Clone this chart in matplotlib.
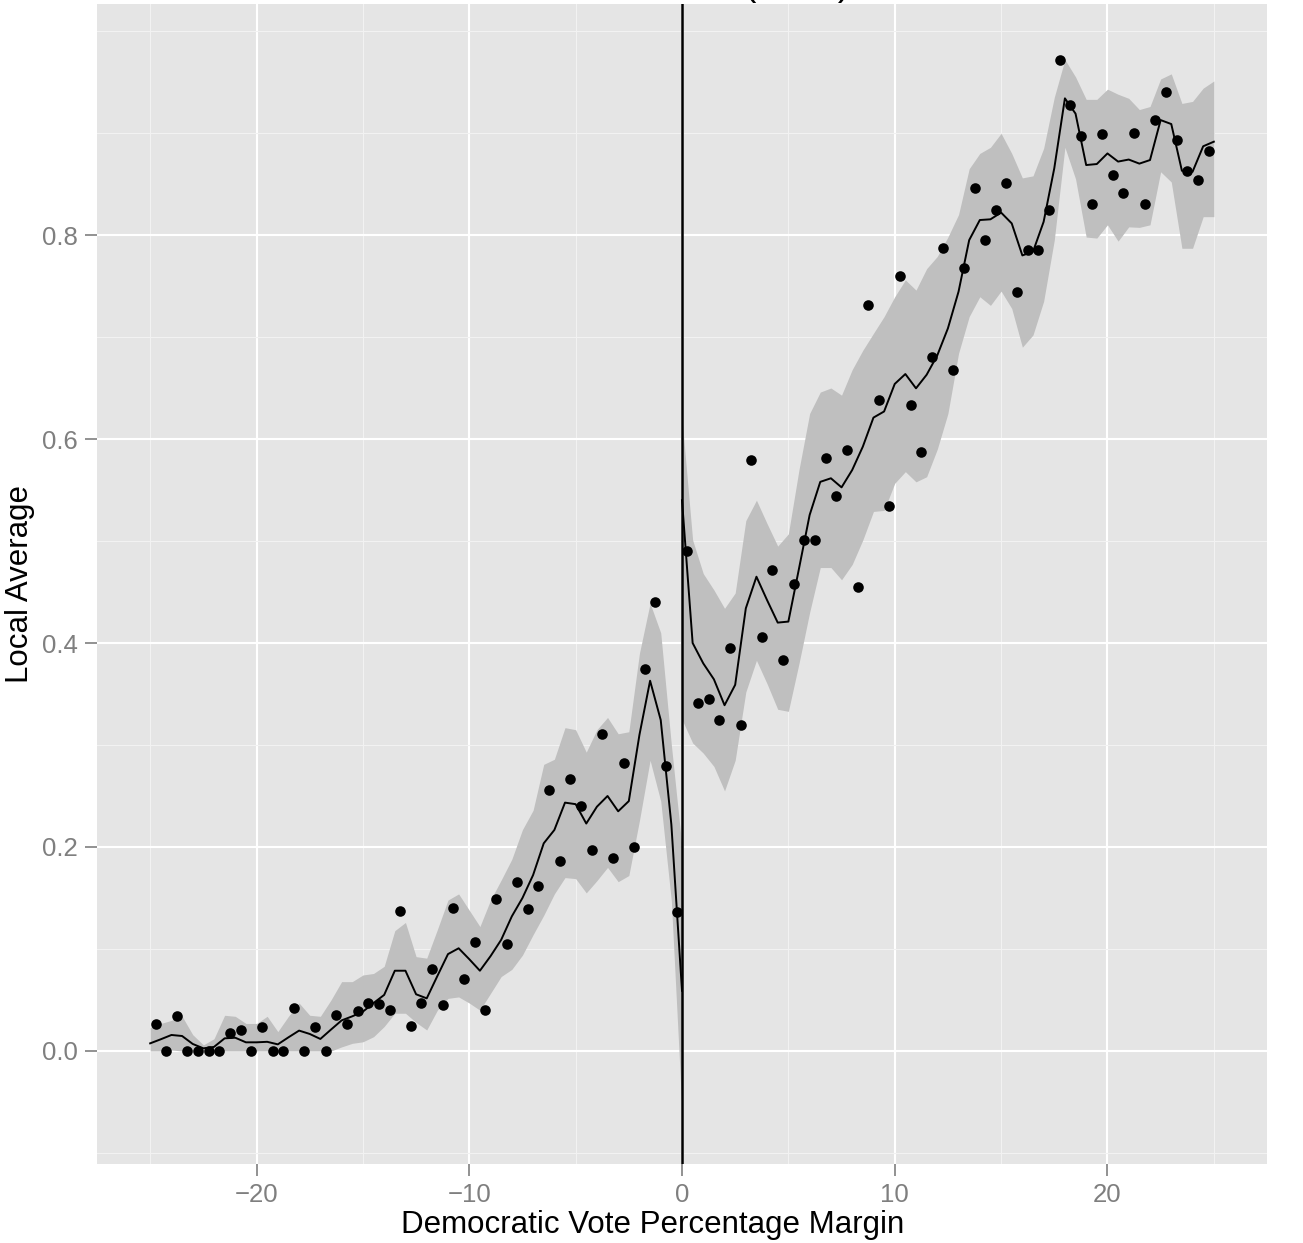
import numpy as np
import matplotlib
matplotlib.use('Agg')
import matplotlib.pyplot as plt
from matplotlib.ticker import FixedLocator

plt.rcParams['font.family'] = ['Liberation Sans', 'DejaVu Sans']

# ---------------- data ----------------
# bin centres (0.5-wide bins)
bins_left = np.arange(-24.75, 0, 0.5)
bins_right = np.arange(0.25, 25, 0.5)

pts_left = [0.026, 0.0, 0.034, 0.0, 0.0, 0.0, 0.0, 0.018, 0.021, 0.0,
            0.024, 0.0, 0.0, 0.042, 0.0, 0.024, 0.0, 0.035, 0.026, 0.039,
            0.047, 0.046, 0.040, 0.137, 0.0245, 0.047, 0.080, 0.045, 0.140, 0.071,
            0.107, 0.0405, 0.149, 0.105, 0.166, 0.139, 0.162, 0.256, 0.186, 0.267,
            0.240, 0.197, 0.311, 0.189, 0.282, 0.200, 0.375, 0.440, 0.279, 0.136]

pts_right = [0.490, 0.341, 0.345, 0.325, 0.395, 0.320, 0.579, 0.4055, 0.472, 0.383,
             0.4575, 0.5005, 0.5005, 0.581, 0.544, 0.589, 0.455, 0.731, 0.638, 0.534,
             0.760, 0.633, 0.587, 0.680, 0.787, 0.668, 0.768, 0.846, 0.795, 0.825,
             0.851, 0.744, 0.785, 0.785, 0.825, 0.972, 0.927, 0.897, 0.830, 0.899,
             0.8585, 0.841, 0.8997, 0.830, 0.913, 0.940, 0.893, 0.863, 0.854, 0.882]

# local-average curve evaluated on a 0.5 grid on each side of the cutoff
grid_left = np.arange(-25, 0.01, 0.5)
grid_right = np.arange(0, 25.01, 0.5)

fit_left = [0.0075, 0.0115, 0.0157, 0.0147, 0.0069, 0.0026, 0.004, 0.0124, 0.013, 0.0085,
            0.0085, 0.009, 0.0065, 0.0134, 0.020, 0.0167, 0.0118, 0.021, 0.030, 0.034,
            0.0386, 0.047, 0.055, 0.0787, 0.0787, 0.0556, 0.0516, 0.0735, 0.095, 0.1007,
            0.090, 0.0787, 0.093, 0.109, 0.132, 0.150, 0.1725, 0.2036, 0.2167, 0.2435,
            0.242, 0.223, 0.2395, 0.250, 0.235, 0.245, 0.310, 0.363, 0.3245, 0.222,
            0.059]
hi_left = [0.023, 0.027, 0.030, 0.034, 0.016, 0.006, 0.012, 0.035, 0.034, 0.027,
           0.027, 0.034, 0.019, 0.034, 0.047, 0.035, 0.034, 0.050, 0.068, 0.068,
           0.0745, 0.076, 0.083, 0.118, 0.126, 0.0925, 0.091, 0.119, 0.148, 0.154,
           0.138, 0.122, 0.148, 0.1676, 0.188, 0.217, 0.236, 0.281, 0.286, 0.317,
           0.315, 0.293, 0.315, 0.327, 0.311, 0.313, 0.390, 0.439, 0.410, 0.300,
           0.200]
lo_left = [0.0, 0.0, 0.001, 0.0, 0.0, 0.0, 0.0, 0.0, 0.0, 0.0,
           0.0, 0.0, 0.0, 0.0, 0.0, 0.0, 0.0, 0.0, 0.004, 0.0075,
           0.009, 0.014, 0.024, 0.037, 0.037, 0.028, 0.0206, 0.040, 0.0516, 0.053,
           0.047, 0.040, 0.0565, 0.073, 0.080, 0.094, 0.114, 0.133, 0.154, 0.170,
           0.169, 0.155, 0.167, 0.180, 0.166, 0.172, 0.226, 0.285, 0.245, 0.147,
           -0.059]

fit_right = [0.540, 0.400, 0.380, 0.3644, 0.339, 0.359, 0.434, 0.465, 0.442, 0.420,
             0.421, 0.473, 0.5255, 0.558, 0.5615, 0.5526, 0.5696, 0.5925, 0.621, 0.627,
             0.654, 0.6637, 0.6497, 0.663, 0.682, 0.7085, 0.7445, 0.795, 0.8147, 0.8154,
             0.822, 0.8114, 0.780, 0.7837, 0.813, 0.8654, 0.934, 0.919, 0.8686, 0.8696,
             0.880, 0.872, 0.874, 0.870, 0.8735, 0.9127, 0.9088, 0.863, 0.862, 0.887,
             0.8915]
hi_right = [0.620, 0.501, 0.468, 0.452, 0.434, 0.449, 0.520, 0.540, 0.517, 0.495,
            0.507, 0.570, 0.625, 0.646, 0.650, 0.643, 0.668, 0.687, 0.7036, 0.720,
            0.7395, 0.756, 0.746, 0.767, 0.779, 0.798, 0.820, 0.865, 0.880, 0.886,
            0.8997, 0.880, 0.856, 0.858, 0.885, 0.935, 0.972, 0.955, 0.933, 0.933,
            0.943, 0.938, 0.934, 0.923, 0.926, 0.953, 0.958, 0.929, 0.931, 0.944,
            0.951]
lo_right = [0.325, 0.302, 0.292, 0.279, 0.255, 0.285, 0.352, 0.383, 0.360, 0.335,
            0.333, 0.380, 0.430, 0.474, 0.474, 0.462, 0.477, 0.501, 0.529, 0.530,
            0.5566, 0.568, 0.558, 0.563, 0.590, 0.625, 0.684, 0.720, 0.7395, 0.731,
            0.745, 0.728, 0.690, 0.702, 0.735, 0.795, 0.886, 0.855, 0.798, 0.797,
            0.810, 0.794, 0.808, 0.8075, 0.810, 0.862, 0.852, 0.787, 0.787, 0.818,
            0.818]

x_major = [-20, -10, 0, 10, 20]
x_minor = [-25, -15, -5, 5, 15, 25]
y_major = [0.0, 0.2, 0.4, 0.6, 0.8]
y_minor = [-0.1, 0.1, 0.3, 0.5, 0.7, 0.9, 1.0]
cutoff = 0

# ---------------- figure ----------------
W, H = 1303, 1243
fig = plt.figure(figsize=(W / 100, H / 100), dpi=100)
L, R, T, B = 97, 1267, 4, 1164
ax = fig.add_axes([L / W, 1 - B / H, (R - L) / W, (B - T) / H])
ax.set_facecolor('#E5E5E5')
for s in ax.spines.values():
    s.set_visible(False)

ribbon = '#BFBFBF'
ax.fill_between(grid_left, lo_left, hi_left, color=ribbon, lw=0, zorder=1)
ax.fill_between(grid_right, lo_right, hi_right, color=ribbon, lw=0, zorder=1)
ax.plot(grid_left, fit_left, color='black', lw=1.4, zorder=2)
ax.plot(grid_right, fit_right, color='black', lw=1.4, zorder=2)
ax.scatter(bins_left, pts_left, s=58, color='black', lw=0, zorder=3)
ax.scatter(bins_right, pts_right, s=58, color='black', lw=0, zorder=3)
ax.axvline(cutoff, color='black', lw=1.8, zorder=4)

ax.set_xlim(-27.5, 27.5)
ax.set_ylim(-0.1108, 1.0265)
ax.xaxis.set_major_locator(FixedLocator(x_major))
ax.xaxis.set_minor_locator(FixedLocator(x_minor))
ax.yaxis.set_major_locator(FixedLocator(y_major))
ax.yaxis.set_minor_locator(FixedLocator(y_minor))
ax.set_xticklabels([f'{v:g}'.replace('-', '\u2212') for v in x_major])
ax.set_yticklabels([f'{v:.1f}' for v in y_major])

ax.set_axisbelow(True)
ax.grid(which='major', color='white', lw=1.5, zorder=0)
ax.grid(which='minor', color='#F2F2F2', lw=0.8, zorder=0)
ax.tick_params(which='major', length=8.4, width=1.2, color='#7F7F7F',
               labelcolor='#7F7F7F', labelsize=18.5, pad=5.5)
ax.tick_params(which='minor', length=0)

fig.text(653 / W, 1 - 1225 / H, 'Democratic Vote Percentage Margin',
         ha='center', va='center', fontsize=22.5, color='black')
fig.text(20 / W, 1 - 584 / H, 'Local Average', rotation=90,
         ha='center', va='center', fontsize=22.5, color='black')
# title sits just above the (cropped) top edge; only its descenders show
fig.text(850 / W, 1 + 5 / H, 'Lee (2008)', ha='right', va='baseline',
         fontsize=26.4, color='black')

fig.savefig('out.png', dpi=100)
